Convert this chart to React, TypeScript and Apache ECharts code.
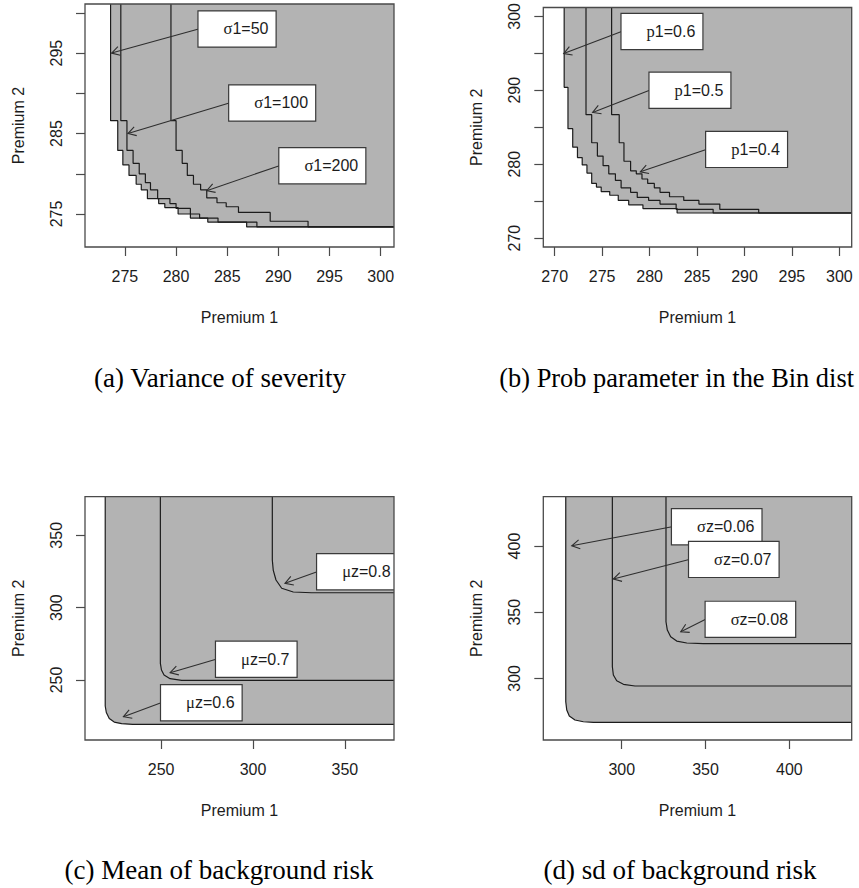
import React, { useEffect, useRef } from "react";
import * as echarts from "echarts";

// ---------- (a) Variance of severity: staircase boundaries ----------
// step k: horizontal run at Y[k] starting at X[k]
const sigma50X = [273.6, 274.3, 274.8, 275.4, 276.1, 276.6, 277.2, 278.3, 278.9, 280.2, 281.4, 283.1, 286.9];
const sigma50Y = [286.6, 282.9, 281.1, 279.8, 278.7, 278.0, 276.9, 276.3, 275.8, 275.0, 274.5, 274.0, 273.4];
const sigma100X = [274.6, 275.2, 275.8, 276.4, 277.0, 277.5, 278.2, 279.4, 280.0, 281.4, 282.3, 284.1, 287.9];
const sigma100Y = [286.6, 282.9, 281.3, 280.0, 278.9, 278.0, 276.9, 276.3, 275.7, 275.0, 274.5, 274.0, 273.4];
const sigma200X = [279.5, 280.0, 280.6, 281.1, 281.7, 282.4, 283.0, 284.0, 284.9, 286.1, 289.2, 292.9];
const sigma200Y = [286.6, 282.9, 281.3, 279.8, 278.7, 278.0, 277.0, 276.4, 275.9, 275.2, 274.1, 273.4];
const sigmaLabels = ["σ1=50", "σ1=100", "σ1=200"];
const sigmaArrowFrom = [[282.2, 298.0], [285.2, 288.8], [290.1, 281.0]];
const sigmaArrowTo = [[273.7, 295.0], [275.3, 285.0], [283.0, 277.9]];

// ---------- (b) Prob parameter in the Bin dist ----------
const p06X = [271.0, 271.4, 271.9, 272.4, 272.9, 273.4, 273.9, 274.4, 274.9, 275.8, 276.7, 277.8, 279.3, 282.9];
const p06Y = [290.4, 284.8, 282.3, 280.9, 279.9, 278.8, 277.4, 276.9, 276.3, 275.8, 275.1, 274.5, 274.0, 273.4];
const p05X = [273.3, 273.9, 274.5, 275.1, 275.7, 276.4, 277.0, 278.0, 278.7, 279.9, 281.1, 282.8, 286.7];
const p05Y = [286.7, 282.9, 281.1, 279.8, 278.7, 277.8, 276.8, 276.2, 275.5, 275.1, 274.6, 273.9, 273.4];
const p04X = [276.0, 276.8, 277.3, 278.0, 278.6, 279.2, 279.8, 280.5, 281.1, 282.1, 283.6, 285.2, 287.4, 291.5];
const p04Y = [286.7, 282.9, 280.4, 279.1, 278.7, 278.0, 277.4, 276.8, 276.2, 275.6, 275.1, 274.6, 273.9, 273.4];
const pLabels = ["p1=0.6", "p1=0.5", "p1=0.4"];
const pArrowFrom = [[277.05, 297.96], [280.0, 290.0], [285.97, 282.0]];
const pArrowTo = [[270.95, 294.97], [274.0, 287.0], [279.02, 278.97]];

// ---------- (c) Mean of background risk: rounded corners ----------
const mu06X = [219.6, 220.2, 221.8, 224.5, 228.5, 234.5];
const mu06Y = [232.0, 227.5, 223.4, 220.9, 219.8, 219.3];
const mu07X = [249.6, 250.2, 251.6, 254.9, 261.2];
const mu07Y = [261.5, 256.9, 253.5, 250.9, 249.7];
const mu08X = [310.5, 311.0, 312.5, 315.6, 321.9, 331.9];
const mu08Y = [332.9, 326.0, 319.1, 313.4, 310.8, 310.3];
const muLabels = ["μz=0.8", "μz=0.7", "μz=0.6"];
const muArrowFrom = [[334.9, 324.8], [279.9, 264.3], [250.0, 234.3]];
const muArrowTo = [[317.4, 316.8], [254.9, 255.0], [229.5, 224.6]];

// ---------- (d) sd of background risk ----------
const sd06X = [266.6, 267.2, 268.7, 272.1, 277.1, 283.1];
const sd06Y = [282.3, 276.0, 271.5, 268.5, 267.2, 266.7];
const sd07X = [294.4, 295.0, 297.0, 301.0, 307.9];
const sd07Y = [308.8, 302.5, 298.2, 295.5, 294.2];
const sd08X = [326.4, 327.2, 329.2, 332.8, 338.8, 348.7];
const sd08Y = [342.8, 336.5, 331.4, 328.2, 326.7, 326.2];
const sdLabels = ["σz=0.06", "σz=0.07", "σz=0.08"];
const sdArrowFrom = [[330.0, 414.6], [340.2, 389.9], [350.1, 344.6]];
const sdArrowTo = [[270.2, 400.2], [295.0, 375.1], [335.2, 335.2]];

// ---------- axes ----------
const aXRange = [271.1, 301.3];
const aYRange = [270.9, 301.1];
const aXTicks = [275, 280, 285, 290, 295, 300];
const aYTicks = [275, 280, 285, 290, 295, 300];
const aYLabels = [275, 285, 295];

const bXRange = [268.8, 301.3];
const bYRange = [268.8, 301.2];
const bXTicks = [270, 275, 280, 285, 290, 295, 300];
const bYTicks = [270, 275, 280, 285, 290, 295, 300];
const bYLabels = [270, 280, 290, 300];

const cXRange = [208.6, 376.7];
const cYRange = [208.5, 376.7];
const cXTicks = [250, 300, 350];
const cYTicks = [250, 300, 350];

const dXRange = [253.2, 437.2];
const dYRange = [253.4, 437.3];
const dXTicks = [300, 350, 400];
const dYTicks = [300, 350, 400];

const captions = [
  "(a) Variance of severity",
  "(b) Prob parameter in the Bin dist",
  "(c) Mean of background risk",
  "(d) sd of background risk",
];

const FILL = "#b3b3b3";
const INK = "#1c1c1c";
const SANS = "Liberation Sans";
const SERIF = "Liberation Serif";
const FS = 16;

type Pt = [number, number];

function stairs(xs: number[], ys: number[], yTop: number, xRight: number): Pt[] {
  const pts: Pt[] = [[xs[0], yTop]];
  for (let k = 0; k < xs.length; k++) {
    if (k > 0) pts.push([xs[k], ys[k - 1]]);
    pts.push([xs[k], ys[k]]);
  }
  pts.push([xRight, ys[ys.length - 1]]);
  return pts;
}

function bend(xs: number[], ys: number[], yTop: number, xRight: number): Pt[] {
  const pts: Pt[] = [[xs[0], yTop]];
  xs.forEach((x, k) => pts.push([x, ys[k]]));
  pts.push([xRight, ys[ys.length - 1]]);
  return pts;
}

interface Panel {
  grid: { left: number; top: number; width: number; height: number };
  xr: number[];
  yr: number[];
  xTicks: number[];
  yTicks: number[];
  yLabels: number[];
  curves: Pt[][];
  labels: string[];
  from: number[][];
  to: number[][];
}

export default function App() {
  const ref = useRef<HTMLDivElement>(null);

  useEffect(() => {
    if (!ref.current) return;
    const chart = echarts.init(ref.current, undefined, { renderer: "svg" });

    const panels: Panel[] = [
      {
        grid: { left: 85, top: 4, width: 309, height: 243 },
        xr: aXRange, yr: aYRange, xTicks: aXTicks, yTicks: aYTicks, yLabels: aYLabels,
        curves: [
          stairs(sigma50X, sigma50Y, aYRange[1], aXRange[1]),
          stairs(sigma100X, sigma100Y, aYRange[1], aXRange[1]),
          stairs(sigma200X, sigma200Y, aYRange[1], aXRange[1]),
        ],
        labels: sigmaLabels, from: sigmaArrowFrom, to: sigmaArrowTo,
      },
      {
        grid: { left: 543.3, top: 4, width: 308.4, height: 243 },
        xr: bXRange, yr: bYRange, xTicks: bXTicks, yTicks: bYTicks, yLabels: bYLabels,
        curves: [
          stairs(p06X, p06Y, bYRange[1], bXRange[1]),
          stairs(p05X, p05Y, bYRange[1], bXRange[1]),
          stairs(p04X, p04Y, bYRange[1], bXRange[1]),
        ],
        labels: pLabels, from: pArrowFrom, to: pArrowTo,
      },
      {
        grid: { left: 85, top: 496.7, width: 309, height: 243.3 },
        xr: cXRange, yr: cYRange, xTicks: cXTicks, yTicks: cYTicks, yLabels: cYTicks,
        curves: [
          bend(mu06X, mu06Y, cYRange[1], cXRange[1]),
          bend(mu07X, mu07Y, cYRange[1], cXRange[1]),
          bend(mu08X, mu08Y, cYRange[1], cXRange[1]),
        ],
        labels: muLabels, from: muArrowFrom, to: muArrowTo,
      },
      {
        grid: { left: 543.3, top: 496.7, width: 308.4, height: 243.3 },
        xr: dXRange, yr: dYRange, xTicks: dXTicks, yTicks: dYTicks, yLabels: dYTicks,
        curves: [
          bend(sd06X, sd06Y, dYRange[1], dXRange[1]),
          bend(sd07X, sd07Y, dYRange[1], dXRange[1]),
          bend(sd08X, sd08Y, dYRange[1], dXRange[1]),
        ],
        labels: sdLabels, from: sdArrowFrom, to: sdArrowTo,
      },
    ];

    const tickStyle = { color: "#4a4a4a", width: 1.2 };
    const labelText = { fontFamily: SANS, fontSize: FS, color: INK };

    const grid = panels.map((p) => ({
      ...p.grid,
      show: true,
      z: 10,
      backgroundColor: "transparent",
      borderColor: "#4a4a4a",
      borderWidth: 1.3,
      containLabel: false,
    }));

    const xAxis = panels.map((p, i) => ({
      type: "value",
      gridIndex: i,
      min: p.xr[0],
      max: p.xr[1],
      splitLine: { show: false },
      axisLine: { show: false },
      axisTick: { show: true, length: 9, lineStyle: tickStyle, customValues: p.xTicks },
      axisLabel: { ...labelText, margin: 21, customValues: p.xTicks, showMinLabel: true, showMaxLabel: true },
      name: "Premium 1",
      nameLocation: "middle",
      nameGap: 62,
      nameTextStyle: { fontFamily: SANS, fontSize: FS, color: INK },
    }));

    const yAxis = panels.map((p, i) => ({
      type: "value",
      gridIndex: i,
      min: p.yr[0],
      max: p.yr[1],
      splitLine: { show: false },
      axisLine: { show: false },
      axisTick: { show: true, length: 9, lineStyle: tickStyle, customValues: p.yTicks },
      axisLabel: { ...labelText, rotate: 90, margin: 21, customValues: p.yLabels, showMinLabel: true, showMaxLabel: true },
      name: "Premium 2",
      nameLocation: "middle",
      nameGap: 59,
      nameTextStyle: { fontFamily: SANS, fontSize: FS, color: INK },
    }));

    const series: any[] = [];
    panels.forEach((p, i) => {
      // grey acceptance region: everything above/right of each boundary
      p.curves.forEach((pts) => {
        series.push({
          type: "line",
          xAxisIndex: i,
          yAxisIndex: i,
          data: pts,
          symbol: "none",
          silent: true,
          z: 1,
          lineStyle: { opacity: 0 },
          areaStyle: { color: FILL, opacity: 1, origin: "end" },
        });
      });
      p.curves.forEach((pts) => {
        series.push({
          type: "line",
          xAxisIndex: i,
          yAxisIndex: i,
          data: pts,
          symbol: "none",
          silent: true,
          z: 3,
          lineStyle: { color: INK, width: 1.2 },
        });
      });
      // labelled arrows pointing at each boundary
      series.push({
        type: "custom",
        xAxisIndex: i,
        yAxisIndex: i,
        silent: true,
        clip: true,
        z: 6,
        data: p.from.map((f, k) => [f[0], f[1], p.to[k][0], p.to[k][1]]),
        encode: { x: [0, 2], y: [1, 3] },
        renderItem: (params: any, api: any) => {
          const k = params.dataIndex;
          const p0 = api.coord([api.value(0), api.value(1)]);
          const p1 = api.coord([api.value(2), api.value(3)]);
          const ang = Math.atan2(p0[1] - p1[1], p0[0] - p1[0]);
          const L = 9;
          const A = Math.PI / 6;
          const h1 = [p1[0] + L * Math.cos(ang + A), p1[1] + L * Math.sin(ang + A)];
          const h2 = [p1[0] + L * Math.cos(ang - A), p1[1] + L * Math.sin(ang - A)];
          const lab = p.labels[k];
          return {
            type: "group",
            children: [
              {
                type: "line",
                shape: { x1: p0[0], y1: p0[1], x2: p1[0], y2: p1[1] },
                style: { stroke: "#2e2e2e", lineWidth: 1.1 },
              },
              {
                type: "polyline",
                shape: { points: [h1, p1, h2] },
                style: { stroke: "#2e2e2e", lineWidth: 1.1, fill: null },
              },
              {
                type: "text",
                x: p0[0],
                y: p0[1],
                style: {
                  text: `{g|${lab[0]}}${lab.slice(1)}`,
                  rich: { g: { fontFamily: SERIF, fontSize: FS + 0.5, fill: INK } },
                  fontFamily: SANS,
                  fontSize: FS,
                  fill: INK,
                  align: "left",
                  verticalAlign: "middle",
                  lineHeight: 17,
                  backgroundColor: "#ffffff",
                  borderColor: "#3a3a3a",
                  borderWidth: 1.2,
                  padding: [9, 7, 9, 25],
                },
              },
            ],
          };
        },
      });
    });

    const capFont = `27px "${SERIF}"`;
    const capFontB = `26.4px "${SERIF}"`;
    const graphic = [
      { type: "text", x: 220, y: 378, style: { text: captions[0], font: capFont, fill: "#000", align: "center", verticalAlign: "middle" } },
      { type: "text", x: 854, y: 378, style: { text: captions[1], font: capFontB, fill: "#000", align: "right", verticalAlign: "middle" } },
      { type: "text", x: 219, y: 870, style: { text: captions[2], font: capFont, fill: "#000", align: "center", verticalAlign: "middle" } },
      { type: "text", x: 680, y: 870, style: { text: captions[3], font: capFont, fill: "#000", align: "center", verticalAlign: "middle" } },
    ];

    chart.setOption({
      animation: false,
      backgroundColor: "#ffffff",
      grid,
      xAxis,
      yAxis,
      series,
      graphic,
    });

    return () => chart.dispose();
  }, []);

  return (
    <div
      ref={ref}
      style={{ position: "absolute", left: 0, top: 0, width: 859, height: 888 }}
    />
  );
}
